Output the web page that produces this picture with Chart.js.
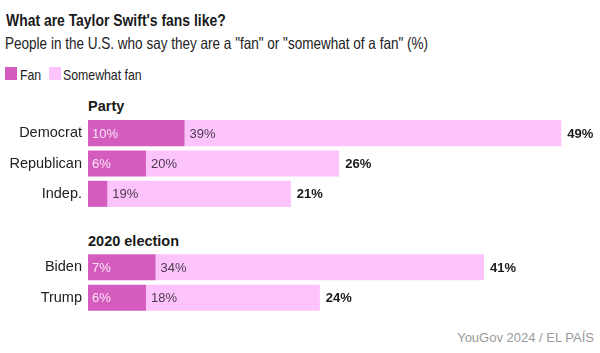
<!DOCTYPE html>
<html>
<head>
<meta charset="utf-8">
<script src="https://cdn.jsdelivr.net/npm/chart.js@4.4.1/dist/chart.umd.min.js"></script>
<style>
  body { margin: 0; width: 600px; height: 353px; background: #fff; position: relative; overflow: hidden;
         font-family: "Liberation Sans", Arial, sans-serif; color: #222; }
  .abs { position: absolute; white-space: nowrap; line-height: 1; }
  /* the source face is a condensed grotesque; squeeze Liberation Sans to match */
  .narrow { transform: scaleX(0.82); transform-origin: 0 0; }
  #title { left: 6px; top: 12.5px; font-size: 16px; font-weight: bold; color: #1a1a1a; transform: scaleX(0.87); transform-origin: 0 0; }
  #subtitle { left: 5px; top: 35px; font-size: 16.5px; color: #222; }
  .sw { position: absolute; width: 12px; height: 13px; top: 67px; }
  .lg { top: 67px; font-size: 15px; color: #222; }
  .hdr { left: 88px; font-size: 14.5px; font-weight: bold; color: #1a1a1a; }
  #source { right: 6px; top: 331px; font-size: 13px; color: #9b9b9b; }
  canvas { position: absolute; left: 0; }
</style>
</head>
<body>
<div id="title" class="abs">What are Taylor Swift's fans like?</div>
<div id="subtitle" class="abs narrow">People in the U.S. who say they are a "fan" or "somewhat of a fan" (%)</div>
<div class="sw" style="left:5px;background:#d55cbf"></div>
<div class="abs lg narrow" style="left:20px">Fan</div>
<div class="sw" style="left:49px;background:#fdc3fd"></div>
<div class="abs lg narrow" style="left:63px">Somewhat fan</div>
<div class="abs hdr" style="top:99px">Party</div>
<div class="abs hdr" style="top:234px">2020 election</div>
<canvas id="party" width="600" height="91" style="top:118px;width:600px;height:91px"></canvas>
<canvas id="election" width="600" height="61" style="top:252px;width:600px;height:61px"></canvas>
<div id="source" class="abs">YouGov 2024 / EL PAÍS</div>

<script>
// ---- data ---------------------------------------------------------
const partyLabels = ['Democrat', 'Republican', 'Indep.'];
const partyFan = [10, 6, 2];
const partySomewhat = [39, 20, 19];
const partyTotal = [49, 26, 21];

const electionLabels = ['Biden', 'Trump'];
const electionFan = [7, 6];
const electionSomewhat = [34, 18];
const electionTotal = [41, 24];

const FAN_COLOR = '#d55cbf';
const SOMEWHAT_COLOR = '#fdc3fd';
const X_MAX = 53;

// ---- value labels drawn on top of the bars -----------------------
const barLabels = {
  id: 'barLabels',
  afterDatasetsDraw(chart) {
    const ctx = chart.ctx;
    const totals = chart.options.plugins.barLabels.totals;
    const fanMeta = chart.getDatasetMeta(0);
    const swMeta = chart.getDatasetMeta(1);
    ctx.save();
    ctx.textBaseline = 'middle';
    ctx.textAlign = 'left';
    fanMeta.data.forEach((bar, i) => {
      const p = bar.getProps(['x', 'y', 'base'], true);
      const v = chart.data.datasets[0].data[i];
      ctx.font = '13px "Liberation Sans", Arial, sans-serif';
      // too narrow for its label (Indep.) -> no label, like the source
      if (p.x - p.base > 30) {
        ctx.fillStyle = '#fbe3f6';
        ctx.fillText(v + '%', p.base + 4, p.y + 1);
      }
      const s = swMeta.data[i].getProps(['x', 'y', 'base'], true);
      ctx.fillStyle = '#4b3b4b';
      ctx.fillText(chart.data.datasets[1].data[i] + '%', s.base + 5, s.y + 1);
      ctx.font = 'bold 13px "Liberation Sans", Arial, sans-serif';
      ctx.fillStyle = '#1a1a1a';
      ctx.fillText(totals[i] + '%', s.x + 6, s.y + 1);
    });
    ctx.restore();
  }
};

function makeChart(canvas, labels, fan, somewhat, totals) {
  return new Chart(canvas, {
    type: 'bar',
    data: {
      labels: labels,
      datasets: [
        { label: 'Fan', data: fan, backgroundColor: FAN_COLOR, borderWidth: 0 },
        { label: 'Somewhat fan', data: somewhat, backgroundColor: SOMEWHAT_COLOR, borderWidth: 0 },
      ],
    },
    options: {
      indexAxis: 'y',
      responsive: false,
      maintainAspectRatio: false,
      animation: false,
      layout: { padding: 0 },
      datasets: { bar: { barPercentage: 0.86, categoryPercentage: 1 } },
      plugins: {
        legend: { display: false },
        tooltip: { enabled: false },
        barLabels: { totals: totals },
      },
      scales: {
        x: { stacked: true, display: false, min: 0, max: X_MAX },
        y: {
          stacked: true,
          grid: { display: false, drawTicks: false },
          border: { display: false },
          ticks: { padding: 6, color: '#222', font: { family: '"Liberation Sans", Arial, sans-serif', size: 14.5 } },
          afterFit(scale) {
            scale.width = 88;
            // no half-label padding above/below: bars fill the canvas height
            scale.paddingTop = 0;
            scale.paddingBottom = 0;
          },
        },
      },
    },
    plugins: [barLabels],
  });
}

makeChart(document.getElementById('party'), partyLabels, partyFan, partySomewhat, partyTotal);
makeChart(document.getElementById('election'), electionLabels, electionFan, electionSomewhat, electionTotal);
</script>
</body>
</html>
